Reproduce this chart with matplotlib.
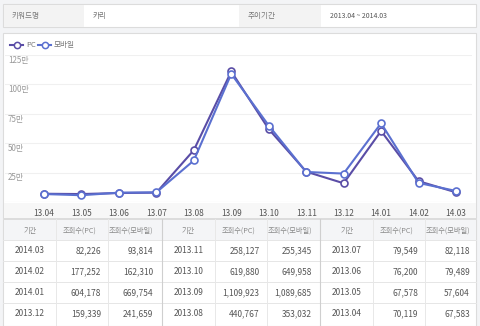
import matplotlib
matplotlib.use("Agg")
import matplotlib.pyplot as plt
from matplotlib.patches import Rectangle
from matplotlib.lines import Line2D

plt.rcParams['font.family'] = ['Noto Sans CJK KR', 'DejaVu Sans']

# data
months = ['13.04', '13.05', '13.06', '13.07', '13.08', '13.09',
          '13.10', '13.11', '13.12', '14.01', '14.02', '14.03']
pc = [70119, 67578, 76200, 79549, 440767, 1109923,
      619880, 258127, 159339, 604178, 177252, 82226]
mobile = [67583, 57604, 79489, 82118, 353032, 1089685,
          649958, 255345, 241659, 669754, 162310, 93814]
y_ticks = [250000, 500000, 750000, 1000000, 1250000]
y_labels = ['25만', '50만', '75만', '100만', '125만']

keyword = '카리'
period = '2013.04 ~ 2014.03'

PC_COL = '#5a4da6'
MO_COL = '#5b70d0'

W, H = 480, 326
fig = plt.figure(figsize=(4.8, 3.26), dpi=100)
fig.patch.set_facecolor('#f3f4f6')


def fx(x):
    return x / W


def fy(y):
    return 1 - y / H


def rect(x0, y0, x1, y1, fc, ec='none', lw=0.8, z=0):
    fig.add_artist(Rectangle((fx(x0), fy(y1)), fx(x1) - fx(x0), fy(y0) - fy(y1),
                             facecolor=fc, edgecolor=ec, linewidth=lw,
                             transform=fig.transFigure, zorder=z))


def txt(x, y, s, size=6, color='#666666', ha='left', **kw):
    fig.text(fx(x), fy(y), s, fontsize=size, color=color, ha=ha, va='center', **kw)


# header box
rect(3, 4, 476, 27, 'white', '#dcdcdc')
rect(3.5, 4.5, 84, 26.5, '#f3f3f3')
rect(239, 4.5, 321, 26.5, '#f3f3f3')
txt(12, 16, '키워드명', 5.5, '#777777')
txt(93, 16, keyword, 5.5, '#777777')
txt(248, 16, '추이기간', 5.5, '#777777')
txt(330, 16, period, 5, '#555555')

# chart panel
rect(3, 33, 476, 218, 'white', '#dcdcdc')
rect(3.5, 203, 475.5, 217.5, '#f7f7f7')

x0_px, x11_px = 44, 456
ax_l, ax_r = 5, 472
unit = (x11_px - x0_px) / 11
xmin = -(x0_px - ax_l) / unit
xmax = 11 + (ax_r - x11_px) / unit
ax = fig.add_axes([fx(ax_l), fy(202), fx(ax_r) - fx(ax_l), fy(55) - fy(202)])
ax.set_facecolor('none')
ax.set_xlim(xmin, xmax)
ax.set_ylim(0, 1250000)
for s in ax.spines.values():
    s.set_visible(False)
ax.axhline(0, color='#dddddd', lw=0.8)
for t, lab in zip(y_ticks, y_labels):
    ax.axhline(t, color='#f0f0f0', lw=0.8, zorder=0)
    ax.text(fx(8 - ax_l) / (fx(ax_r) - fx(ax_l)), t - 45000, lab,
            transform=ax.get_yaxis_transform(), fontsize=5.8, color='#999999',
            ha='left', va='center')
ax.set_yticks([])
xs = list(range(len(months)))
ax.set_xticks(xs)
ax.set_xticklabels(months, fontsize=6, color='#555555')
ax.tick_params(axis='x', length=0, pad=5)
ax.plot(xs, pc, color=PC_COL, lw=1.5, marker='o', ms=5, mfc='white',
        mec=PC_COL, mew=1.2, clip_on=False, zorder=3)
ax.plot(xs, mobile, color=MO_COL, lw=1.5, marker='o', ms=5, mfc='white',
        mec=MO_COL, mew=1.2, clip_on=False, zorder=4)

# legend
for lx, col, name in [(10, PC_COL, 'PC'), (38, MO_COL, '모바일')]:
    fig.add_artist(Line2D([fx(lx), fx(lx + 13)], [fy(45), fy(45)], color=col, lw=1.5,
                          transform=fig.transFigure))
    fig.add_artist(Line2D([fx(lx + 6.5)], [fy(45)], color=col, marker='o', ms=4.5,
                          mfc='white', mec=col, mew=1.1, transform=fig.transFigure))
    txt(lx + 16, 45, name, 5.5, '#777777')

# table
rect(3, 219, 476, 326, 'white', '#dcdcdc')
rect(3.5, 219.5, 475.5, 240, '#f4f5f7')
row_y = [250.5, 271.5, 292.5, 313.5]
for yb in [240, 261, 282, 303]:
    fig.add_artist(Line2D([fx(3), fx(476)], [fy(yb), fy(yb)], color='#e6e6e6', lw=0.7,
                          transform=fig.transFigure))
periods = ['20' + m for m in months][::-1]
pc_r = pc[::-1]
mo_r = mobile[::-1]
for k in range(3):
    b = 3 + 158.5 * k
    if k > 0:
        fig.add_artist(Line2D([fx(b), fx(b)], [fy(219), fy(326)], color='#cfcfcf', lw=0.8,
                              transform=fig.transFigure))
    for dx in (53, 105):
        fig.add_artist(Line2D([fx(b + dx), fx(b + dx)], [fy(219), fy(326)], color='#e8e8e8',
                              lw=0.7, transform=fig.transFigure))
    txt(b + 27, 231, '기간', 5.2, '#888888', ha='center')
    txt(b + 77, 231, '조회수(PC)', 5.2, '#888888', ha='center')
    txt(b + 128, 231, '조회수(모바일)', 5.2, '#888888', ha='center')
    for i in range(4):
        j = k * 4 + i
        txt(b + 27, row_y[i], periods[j], 6, '#555555', ha='center')
        txt(b + 98, row_y[i], f'{pc_r[j]:,}', 6, '#555555', ha='right')
        txt(b + 150, row_y[i], f'{mo_r[j]:,}', 6, '#555555', ha='right')

fig.savefig('out.png', dpi=100, facecolor=fig.get_facecolor())
